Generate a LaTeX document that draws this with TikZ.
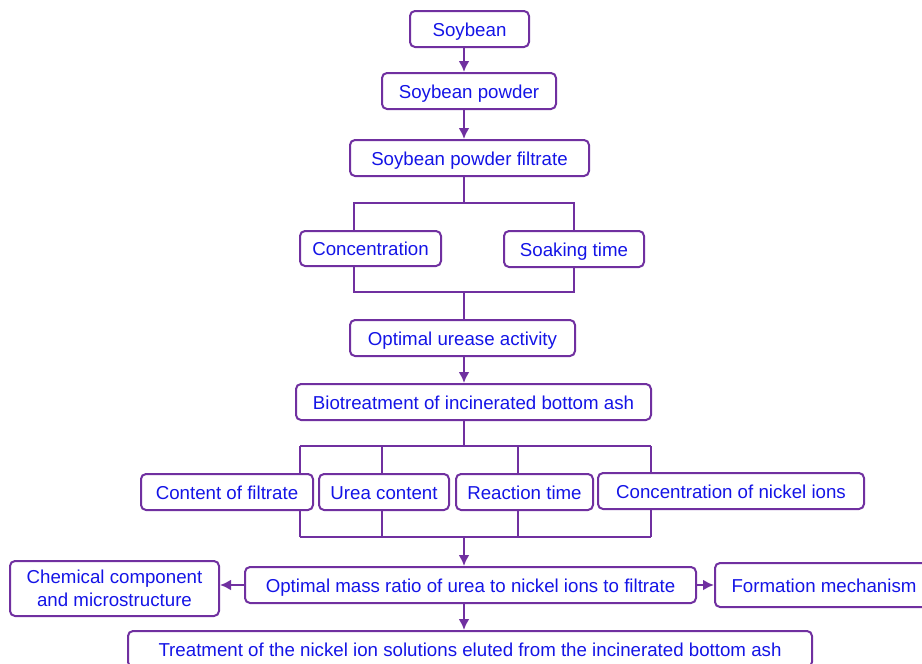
\documentclass[tikz,border=0pt]{standalone}
\usepackage{fontspec}
\setmainfont{Liberation Sans}
\usetikzlibrary{arrows.meta}
\definecolor{boxpurple}{RGB}{112,48,160}
\definecolor{txtblue}{RGB}{20,20,230}
\tikzset{
  box/.style={draw=boxpurple,line width=2pt,rounded corners=5pt,text=txtblue,minimum height=36pt,inner sep=0pt,align=center,text height=18pt,text depth=4pt},
  ln/.style={draw=boxpurple,line width=2.2pt},
  arr/.style={ln,-{Latex[length=11pt,width=11pt]}}
}
\begin{document}
\begin{tikzpicture}[x=1pt,y=-1pt,font=\fontsize{18.7}{23}\selectfont]
\useasboundingbox (0,0) rectangle (922,664);
% main chain
\node[box,minimum width=119pt](soy) at (469.5,29){Soybean};
\node[box,minimum width=174pt](pow) at (469,91){Soybean powder};
\node[box,minimum width=239pt](filt) at (469.5,158){Soybean powder filtrate};
\node[box,minimum width=141pt,minimum height=35pt](conc) at (370.5,248.5){Concentration};
\node[box,minimum width=140pt](soak) at (574,249){Soaking time};
\node[box,minimum width=225pt](urease) at (462.5,338){Optimal urease activity};
\node[box,minimum width=355pt](bio) at (473.5,402){Biotreatment of incinerated bottom ash};
% factors
\node[box,minimum width=172pt](cfil) at (227,492){Content of filtrate};
\node[box,minimum width=130pt](urea) at (384,492){Urea content};
\node[box,minimum width=137pt](rtime) at (524.5,492){Reaction time};
\node[box,minimum width=266pt](nick) at (731,491){Concentration of nickel ions};
% results
\node[box,minimum width=451pt](ratio) at (470.5,585){Optimal mass ratio of urea to nickel ions to filtrate};
\node[box,minimum width=209pt,minimum height=55pt,text height=,text depth=](chem) at (114.5,588.5){Chemical component\\and microstructure};
\node[box,minimum width=218pt,minimum height=44pt](form) at (824,585){Formation mechanism};
\node[box,minimum width=684pt](treat) at (470,649){Treatment of the nickel ion solutions eluted from the incinerated bottom ash};
% spine and branch points
\coordinate(sp) at (464,0);
\coordinate(t1) at (464,203);
\coordinate(b1) at (464,292);
\coordinate(l1) at (354,0);
\coordinate(t2) at (464,446);
\coordinate(b2) at (464,537);
\draw[arr](soy.south-|sp)--(pow.north-|sp);
\draw[arr](pow.south-|sp)--(filt.north-|sp);
\draw[ln](filt.south-|sp)--(t1);
\draw[ln](conc.north-|l1)|-(soak.north|-t1)--(soak.north);
\draw[ln](conc.south-|l1)|-(soak.south|-b1)--(soak.south);
\draw[ln](b1)--(urease.north-|sp);
\draw[arr](urease.south-|sp)--(bio.north-|sp);
\draw[ln](bio.south-|sp)--(t2);
\draw[ln](300,446)--(651,446);
\draw[ln](300,537)--(651,537);
\foreach \n/\x in {cfil/300,urea/382,rtime/518,nick/651}{
  \draw[ln](\n.north-|\x,0)--(\x,446);
  \draw[ln](\n.south-|\x,0)--(\x,537);
}
\draw[arr](b2)--(ratio.north-|sp);
\draw[arr](ratio.west)--(chem.east|-ratio.west);
\draw[arr](ratio.east)--(form.west);
\draw[arr](ratio.south-|sp)--(treat.north-|sp);
\end{tikzpicture}
\end{document}
